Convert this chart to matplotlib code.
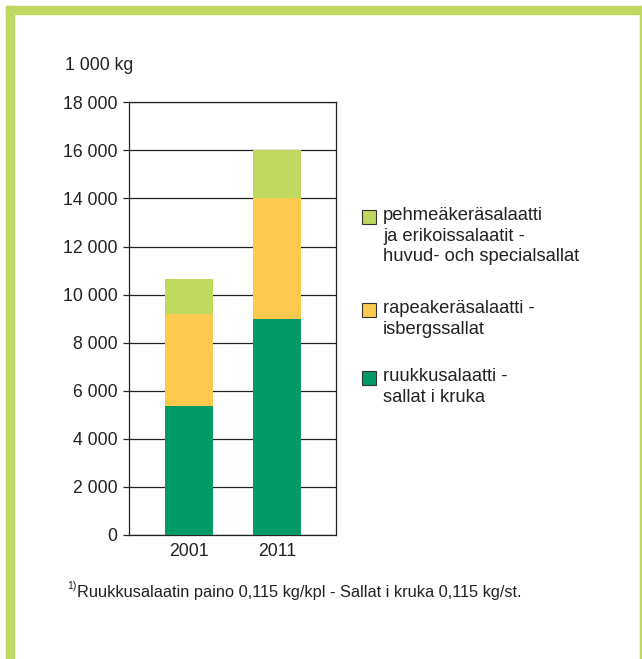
import matplotlib.pyplot as plt
from matplotlib.patches import Rectangle
import numpy as np

plt.rcParams['font.family'] = ['Liberation Sans', 'DejaVu Sans']

# data
years = ["2001", "2011"]
pot = [5350, 9000]          # ruukkusalaatti
iceberg = [3850, 5000]      # rapeakeräsalaatti
head = [1450, 2000]         # pehmeäkeräsalaatti
yticks = np.arange(0, 18001, 2000)

labels = ["pehmeäkeräsalaatti\nja erikoissalaatit -\nhuvud- och specialsallat",
          "rapeakeräsalaatti -\nisbergssallat",
          "ruukkusalaatti -\nsallat i kruka"]

DARK_GREEN = "#009b64"
YELLOW = "#fdc94f"
LIGHT_GREEN = "#bed95e"
FRAME = "#bfd960"
TXT = '#222222'

fig = plt.figure(figsize=(6.42, 6.59), dpi=100)

# frame
fig.patches.append(Rectangle((6 / 642, 0), 8 / 642, 1 - 6 / 659, transform=fig.transFigure,
                             color=FRAME, zorder=0))
fig.patches.append(Rectangle((6 / 642, 1 - 14 / 659), 1, 8 / 659, transform=fig.transFigure,
                             color=FRAME, zorder=0))
fig.patches.append(Rectangle((640 / 642, 0), 2 / 642, 1 - 6 / 659, transform=fig.transFigure,
                             color=FRAME, zorder=0))

ax = fig.add_axes([0.2014, 0.1882, 0.3215, 0.6566])

x = np.arange(len(years))
w = 0.54
bottom2 = np.array(pot) + np.array(iceberg)
ax.bar(x, pot, w, color=DARK_GREEN, zorder=3)
ax.bar(x, iceberg, w, bottom=pot, color=YELLOW, zorder=3)
ax.bar(x, head, w, bottom=bottom2, color=LIGHT_GREEN, zorder=3)

ax.set_xlim(-0.67, 1.66)
ax.set_ylim(0, 18000)
ax.set_yticks(yticks)
ax.set_yticklabels(['{:,}'.format(v).replace(',', ' ') for v in yticks])
ax.set_xticks(x)
ax.set_xticklabels(years)
ax.yaxis.grid(True, color=TXT, linewidth=0.9, zorder=1)
ax.set_axisbelow(True)
ax.tick_params(axis='y', length=4.5, width=0.9, pad=4, labelsize=12.7, colors=TXT)
ax.tick_params(axis='x', length=0, pad=6, labelsize=12.7, colors=TXT)
for s in ax.spines.values():
    s.set_color(TXT)
    s.set_linewidth(0.9)

fig.text(65 / 642, 1 - 66 / 659, "1 000 kg", fontsize=12.7, color=TXT, va='center')

# legend
colors = [LIGHT_GREEN, YELLOW, DARK_GREEN]
square_y = [210, 303, 371]
for lab, col, sy in zip(labels, colors, square_y):
    fig.patches.append(Rectangle((362 / 642, 1 - (sy + 14) / 659), 14 / 642, 14 / 659,
                                 transform=fig.transFigure, facecolor=col,
                                 edgecolor='#333333', linewidth=0.8))
    fig.text(383 / 642, 1 - (sy - 3) / 659, lab, fontsize=13.2, color=TXT,
             va='top', linespacing=1.28)

# footnote
fig.text(67 / 642, 1 - 586 / 659, "1)", fontsize=7.5, color=TXT, va='center')
fig.text(77 / 642, 1 - 593 / 659, "Ruukkusalaatin paino 0,115 kg/kpl - Sallat i kruka 0,115 kg/st.",
         fontsize=11.8, color=TXT, va='center')

fig.savefig("out.png", dpi=100)
